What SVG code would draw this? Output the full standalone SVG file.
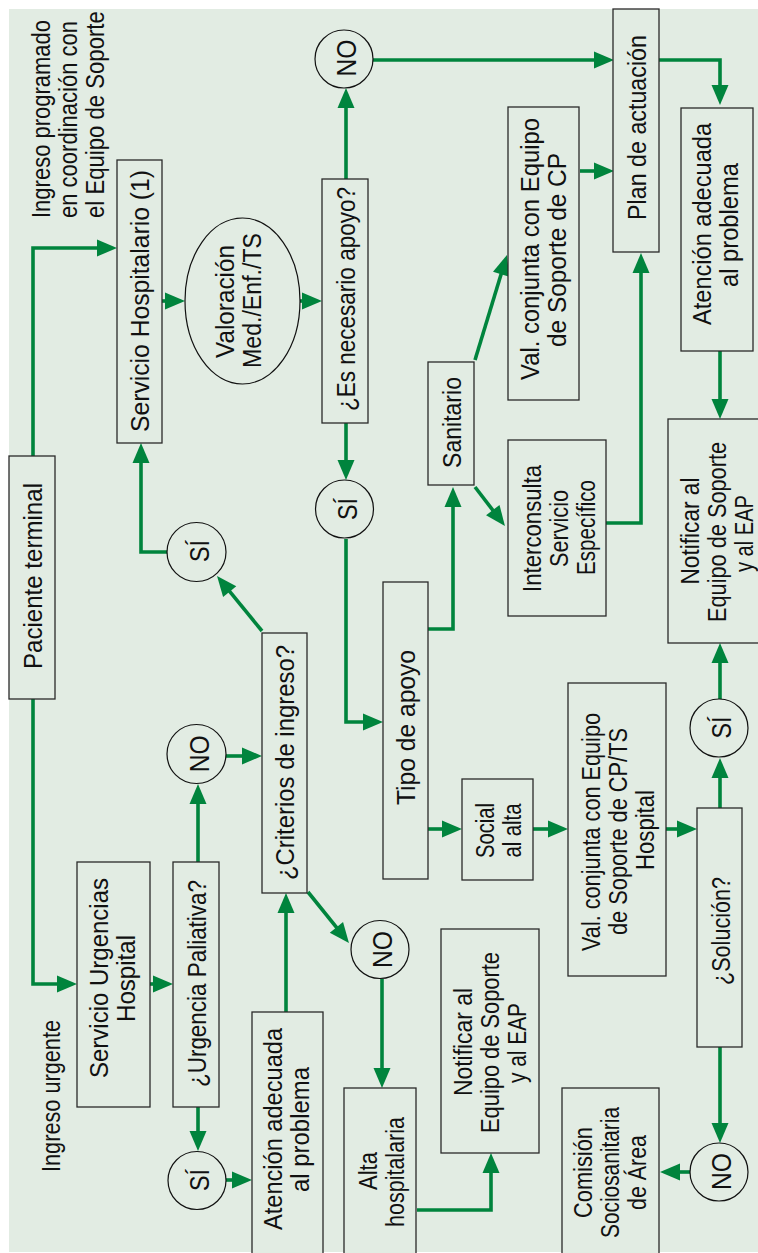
<svg xmlns="http://www.w3.org/2000/svg" width="758" height="1253" viewBox="0 0 758 1253">
<defs>
<style>
.box{fill:#e2ece3;stroke:#2a2a2a;stroke-width:1.3}
.cir{fill:#e2ece3;stroke:#111;stroke-width:1.2}
.t{font-family:"Liberation Sans",Arial,sans-serif;font-size:26px;fill:#111;text-anchor:middle}
.s{font-family:"Liberation Sans",Arial,sans-serif;font-size:26px;fill:#111;text-anchor:start}
.yn{font-family:"Liberation Sans",Arial,sans-serif;font-size:27px;fill:#111;text-anchor:middle}
.conn path{fill:none;stroke:#00843d;stroke-width:3.6;marker-end:url(#ah)}
</style>
<marker id="ah" markerUnits="userSpaceOnUse" markerWidth="20" markerHeight="17" refX="3" refY="8.5" orient="auto" overflow="visible">
<path d="M0,0 L20,8.5 L0,17 z" fill="#00843d"/>
</marker>
</defs>
<rect x="0" y="0" width="758" height="1253" fill="#ffffff"/>
<rect x="9" y="9" width="749" height="1243" fill="#e2ece3"/>

<g id="connectors" class="conn">
<path d="M33,456 V248 H100"/>
<path d="M33,699 V984 H60"/>
<path d="M162,301 H168"/>
<path d="M300,301 H305"/>
<path d="M346,179 V105"/>
<path d="M373,60 H597"/>
<path d="M659,60 H720 V88"/>
<path d="M580,171 H597"/>
<path d="M720,351 V402"/>
<path d="M720,699 V660"/>
<path d="M720,808 V775"/>
<path d="M720,1047 V1126"/>
<path d="M690,1172 H677"/>
<path d="M606,523 H641 V270"/>
<path d="M475,360 L502,271.3"/>
<path d="M475,487 L494.6,512.5"/>
<path d="M428,629 H453 V504"/>
<path d="M346,423 V463"/>
<path d="M346,539 V722 H366"/>
<path d="M428,829 H445"/>
<path d="M533,829 H551"/>
<path d="M666,829 H680"/>
<path d="M262,631 L227.8,589.2"/>
<path d="M168,552 H141 V460"/>
<path d="M198,862 V801"/>
<path d="M226,756 H245"/>
<path d="M150,984 H156"/>
<path d="M198,1107 V1134"/>
<path d="M226,1180 H235"/>
<path d="M286,1012 V910"/>
<path d="M308,892 L338.3,929.7"/>
<path d="M382,979 V1071"/>
<path d="M417,1210 H491 V1170"/>
</g>

<g id="label-programado">
<text class="s" transform="translate(50,218) rotate(-90) scale(0.846,1)">Ingreso programado</text>
<text class="s" transform="translate(77,218) rotate(-90) scale(0.847,1)">en coordinación con</text>
<text class="s" transform="translate(104,218) rotate(-90) scale(0.852,1)">el Equipo de Soporte</text>
</g>
<g id="label-urgente">
<text class="s" transform="translate(60,1172) rotate(-90)" textLength="152" lengthAdjust="spacingAndGlyphs">Ingreso urgente</text>
</g>

<g id="n-paciente">
<rect class="box" x="9" y="456" width="46" height="243"/>
<text class="t" transform="translate(41.5,576) rotate(-90)" textLength="186" lengthAdjust="spacingAndGlyphs">Paciente terminal</text>
</g>
<g id="n-servhosp">
<rect class="box" x="117" y="160" width="45" height="283"/>
<text class="t" transform="translate(149,301) rotate(-90)" textLength="262" lengthAdjust="spacingAndGlyphs">Servicio Hospitalario (1)</text>
</g>
<g id="n-valoracion">
<ellipse class="cir" cx="242.5" cy="301" rx="57.5" ry="83"/>
<text class="t" transform="translate(233.5,301.5) rotate(-90)" textLength="113" lengthAdjust="spacingAndGlyphs">Valoración</text>
<text class="t" transform="translate(260.5,300.5) rotate(-90)" textLength="135" lengthAdjust="spacingAndGlyphs">Med./Enf./TS</text>
</g>
<g id="n-esnecesario">
<rect class="box" x="322" y="179" width="46" height="244"/>
<text class="t" transform="translate(354.5,299) rotate(-90)" textLength="224" lengthAdjust="spacingAndGlyphs">¿Es necesario apoyo?</text>
</g>
<g id="n-no-apoyo">
<circle class="cir" cx="344" cy="59" r="29"/>
<text class="yn" transform="translate(356,58) rotate(-90)" textLength="37" lengthAdjust="spacingAndGlyphs">NO</text>
</g>
<g id="n-plan">
<rect class="box" x="613" y="9" width="46" height="243"/>
<text class="t" transform="translate(645.5,127.5) rotate(-90)" textLength="185" lengthAdjust="spacingAndGlyphs">Plan de actuación</text>
</g>
<g id="n-valcp">
<rect class="box" x="508" y="107" width="71" height="293"/>
<text class="t" transform="translate(538.5,249) rotate(-90)" textLength="262" lengthAdjust="spacingAndGlyphs">Val. conjunta con Equipo</text>
<text class="t" transform="translate(565.5,250) rotate(-90)" textLength="194" lengthAdjust="spacingAndGlyphs">de Soporte de CP</text>
</g>
<g id="n-atencion-2">
<rect class="box" x="681" y="108" width="72" height="243"/>
<text class="t" transform="translate(710.5,224) rotate(-90)" textLength="202" lengthAdjust="spacingAndGlyphs">Atención adecuada</text>
<text class="t" transform="translate(737.5,225) rotate(-90)" textLength="124" lengthAdjust="spacingAndGlyphs">al problema</text>
</g>
<g id="n-notificar-2">
<rect class="box" x="668" y="419" width="100" height="224"/>
<text class="t" transform="translate(699,531) rotate(-90)" textLength="107" lengthAdjust="spacingAndGlyphs">Notificar al</text>
<text class="t" transform="translate(726,532) rotate(-90)" textLength="180" lengthAdjust="spacingAndGlyphs">Equipo de Soporte</text>
<text class="t" transform="translate(753,533.5) rotate(-90)" textLength="77" lengthAdjust="spacingAndGlyphs">y al EAP</text>
</g>
<g id="n-sanitario">
<rect class="box" x="428" y="362" width="46" height="123"/>
<text class="t" transform="translate(460.5,422.5) rotate(-90)" textLength="91" lengthAdjust="spacingAndGlyphs">Sanitario</text>
</g>
<g id="n-interconsulta">
<rect class="box" x="508" y="440" width="98" height="176"/>
<text class="t" transform="translate(540.5,528.5) rotate(-90)" textLength="127" lengthAdjust="spacingAndGlyphs">Interconsulta</text>
<text class="t" transform="translate(567.5,528.5) rotate(-90)" textLength="77" lengthAdjust="spacingAndGlyphs">Servicio</text>
<text class="t" transform="translate(594.5,527.5) rotate(-90)" textLength="95" lengthAdjust="spacingAndGlyphs">Específico</text>
</g>
<g id="n-si-apoyo">
<circle class="cir" cx="344.5" cy="509" r="29"/>
<text class="yn" transform="translate(356.5,509) rotate(-90)" textLength="22" lengthAdjust="spacingAndGlyphs">SÍ</text>
</g>
<g id="n-tipo">
<rect class="box" x="383" y="582" width="45" height="297"/>
<text class="t" transform="translate(415,727.5) rotate(-90)" textLength="155" lengthAdjust="spacingAndGlyphs">Tipo de apoyo</text>
</g>
<g id="n-social">
<rect class="box" x="462" y="779" width="71" height="101"/>
<text class="t" transform="translate(493.5,830.5) rotate(-90)" textLength="55" lengthAdjust="spacingAndGlyphs">Social</text>
<text class="t" transform="translate(520.5,830.5) rotate(-90)" textLength="54" lengthAdjust="spacingAndGlyphs">al alta</text>
</g>
<g id="n-valcpts">
<rect class="box" x="568" y="683" width="98" height="293"/>
<text class="t" transform="translate(599.5,832) rotate(-90)" textLength="238" lengthAdjust="spacingAndGlyphs">Val. conjunta con Equipo</text>
<text class="t" transform="translate(626.5,831.5) rotate(-90)" textLength="207" lengthAdjust="spacingAndGlyphs">de Soporte de CP/TS</text>
<text class="t" transform="translate(653.5,830) rotate(-90)" textLength="80" lengthAdjust="spacingAndGlyphs">Hospital</text>
</g>
<g id="n-solucion">
<rect class="box" x="697" y="808" width="45" height="239"/>
<text class="t" transform="translate(729.5,931) rotate(-90)" textLength="108" lengthAdjust="spacingAndGlyphs">¿Solución?</text>
</g>
<g id="n-si-solucion">
<circle class="cir" cx="719" cy="728" r="29"/>
<text class="yn" transform="translate(731,727.5) rotate(-90)" textLength="22" lengthAdjust="spacingAndGlyphs">SÍ</text>
</g>
<g id="n-no-solucion">
<circle class="cir" cx="719" cy="1172" r="29"/>
<text class="yn" transform="translate(731,1171.5) rotate(-90)" textLength="37" lengthAdjust="spacingAndGlyphs">NO</text>
</g>
<g id="n-comision">
<rect class="box" x="562" y="1088" width="97" height="175"/>
<text class="t" transform="translate(591.5,1172.5) rotate(-90)" textLength="91" lengthAdjust="spacingAndGlyphs">Comisión</text>
<text class="t" transform="translate(618.5,1172.5) rotate(-90)" textLength="131" lengthAdjust="spacingAndGlyphs">Sociosanitaria</text>
<text class="t" transform="translate(645.5,1172.5) rotate(-90)" textLength="75" lengthAdjust="spacingAndGlyphs">de Área</text>
</g>
<g id="n-notificar-1">
<rect class="box" x="441" y="929" width="98" height="224"/>
<text class="t" transform="translate(472,1042) rotate(-90)" textLength="108" lengthAdjust="spacingAndGlyphs">Notificar al</text>
<text class="t" transform="translate(499,1042.5) rotate(-90)" textLength="181" lengthAdjust="spacingAndGlyphs">Equipo de Soporte</text>
<text class="t" transform="translate(526,1043) rotate(-90)" textLength="80" lengthAdjust="spacingAndGlyphs">y al EAP</text>
</g>
<g id="n-alta">
<rect class="box" x="344" y="1088" width="72" height="175"/>
<text class="t" transform="translate(376.5,1171) rotate(-90)" textLength="38" lengthAdjust="spacingAndGlyphs">Alta</text>
<text class="t" transform="translate(403.5,1172) rotate(-90)" textLength="110" lengthAdjust="spacingAndGlyphs">hospitalaria</text>
</g>
<g id="n-no-criterios">
<circle class="cir" cx="380" cy="949.5" r="29"/>
<text class="yn" transform="translate(392,949.5) rotate(-90)" textLength="37" lengthAdjust="spacingAndGlyphs">NO</text>
</g>
<g id="n-criterios">
<rect class="box" x="262" y="633" width="45" height="260"/>
<text class="t" transform="translate(294,762.5) rotate(-90)" textLength="235" lengthAdjust="spacingAndGlyphs">¿Criterios de ingreso?</text>
</g>
<g id="n-si-criterios">
<circle class="cir" cx="196.5" cy="552" r="29.5"/>
<text class="yn" transform="translate(208.5,551) rotate(-90)" textLength="22" lengthAdjust="spacingAndGlyphs">SÍ</text>
</g>
<g id="n-no-urgpal">
<circle class="cir" cx="196.5" cy="754" r="29.5"/>
<text class="yn" transform="translate(208.5,753.7) rotate(-90)" textLength="37" lengthAdjust="spacingAndGlyphs">NO</text>
</g>
<g id="n-urgpal">
<rect class="box" x="173" y="862" width="46" height="245"/>
<text class="t" transform="translate(205.5,983.5) rotate(-90)" textLength="207" lengthAdjust="spacingAndGlyphs">¿Urgencia Paliativa?</text>
</g>
<g id="n-urgencias">
<rect class="box" x="77" y="862" width="73" height="245"/>
<text class="t" transform="translate(107.5,978) rotate(-90)" textLength="200" lengthAdjust="spacingAndGlyphs">Servicio Urgencias</text>
<text class="t" transform="translate(134.5,978.5) rotate(-90)" textLength="87" lengthAdjust="spacingAndGlyphs">Hospital</text>
</g>
<g id="n-si-urgpal">
<circle class="cir" cx="197" cy="1180.5" r="29"/>
<text class="yn" transform="translate(209,1180) rotate(-90)" textLength="22" lengthAdjust="spacingAndGlyphs">SÍ</text>
</g>
<g id="n-atencion-1">
<rect class="box" x="252" y="1012" width="71" height="255"/>
<text class="t" transform="translate(282,1129) rotate(-90)" textLength="202" lengthAdjust="spacingAndGlyphs">Atención adecuada</text>
<text class="t" transform="translate(309,1129.5) rotate(-90)" textLength="125" lengthAdjust="spacingAndGlyphs">al problema</text>
</g>
</svg>
